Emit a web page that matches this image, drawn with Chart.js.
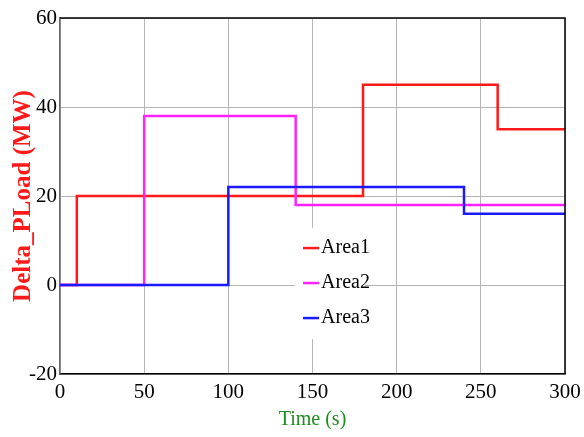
<!DOCTYPE html>
<html>
<head>
<meta charset="utf-8">
<script src="https://cdn.jsdelivr.net/npm/chart.js@4/dist/chart.umd.min.js"></script>
<style>
  html, body { margin: 0; padding: 0; background: #fff; }
  #wrap { width: 584px; height: 437px; }
</style>
</head>
<body>
<div id="wrap"><canvas id="chart"></canvas></div>
<script>
// step changes: time (s) where the load changes, and the new value (MW)
const area1Times = [0, 10, 180, 260, 300];
const area1Values = [0, 20, 45, 35, 35];
const area2Times = [0, 50, 140, 300];
const area2Values = [0, 38, 18, 18];
const area3Times = [0, 100, 240, 300];
const area3Values = [0, 22, 16, 16];

const seriesLabels = ["Area1", "Area2", "Area3"];
const seriesColors = ["#ff1a1a", "#ff22ff", "#1a1aff"];

const xTicks = [0, 50, 100, 150, 200, 250, 300];
const yTicks = [-20, 0, 20, 40, 60];

const serif = "'Liberation Serif', 'Times New Roman', serif";

const toPoints = (ts, vs) => ts.map((t, i) => ({ x: t, y: vs[i] }));

// frame on top/right + legend box inside the plot
const framePlugin = {
  id: "frame",
  afterDraw(chart) {
    const { ctx, chartArea: a } = chart;
    ctx.save();
    ctx.strokeStyle = "#000";
    ctx.lineWidth = 1.5;
    ctx.beginPath();
    ctx.moveTo(a.left, a.top);
    ctx.lineTo(a.right, a.top);
    ctx.lineTo(a.right, a.bottom);
    ctx.stroke();
    ctx.restore();
  },
};

const legendPlugin = {
  id: "innerLegend",
  afterDatasetsDraw(chart) {
    const { ctx } = chart;
    const xs = chart.scales.x;
    const ys = chart.scales.y;
    const left = xs.getPixelForValue(142);
    const top = ys.getPixelForValue(8.3);
    const rowH = 35;
    ctx.save();
    ctx.fillStyle = "#fff";
    ctx.fillRect(left - 4, top - 20, 70, rowH * 3 + 6);
    ctx.font = "20px " + serif;
    ctx.textBaseline = "middle";
    chart.data.datasets.forEach((ds, i) => {
      const y = top + i * rowH;
      ctx.strokeStyle = ds.borderColor;
      ctx.lineWidth = 2.5;
      ctx.beginPath();
      ctx.moveTo(left + 4, y);
      ctx.lineTo(left + 20, y);
      ctx.stroke();
      ctx.fillStyle = "#000";
      ctx.fillText(ds.label, left + 22, y);
    });
    ctx.restore();
  },
};

new Chart(document.getElementById("chart"), {
  type: "line",
  data: {
    datasets: [
      { label: seriesLabels[0], data: toPoints(area1Times, area1Values), borderColor: seriesColors[0], order: 3 },
      { label: seriesLabels[1], data: toPoints(area2Times, area2Values), borderColor: seriesColors[1], order: 2 },
      { label: seriesLabels[2], data: toPoints(area3Times, area3Values), borderColor: seriesColors[2], order: 1 },
    ].map((d) => ({ ...d, stepped: "before", borderWidth: 2.5, pointRadius: 0, fill: false })),
  },
  options: {
    responsive: true,
    maintainAspectRatio: false,
    animation: false,
    layout: { padding: { left: 0, right: 19, top: 18, bottom: 0 } },
    plugins: { legend: { display: false }, tooltip: { enabled: false } },
    scales: {
      x: {
        type: "linear",
        min: 0,
        max: 300,
        afterBuildTicks: (s) => { s.ticks = xTicks.map((v) => ({ value: v })); },
        afterFit: (s) => { s.height = 63; s.paddingLeft = 0; s.paddingRight = 0; },
        ticks: { color: "#000", font: { family: serif, size: 21 }, padding: 6, maxRotation: 0 },
        grid: { color: "#b4b4b4", lineWidth: 1, drawTicks: false },
        border: { color: "#000", width: 1.5 },
        title: {
          display: true,
          text: "Time (s)",
          color: "#1e8c1e",
          font: { family: serif, size: 20 },
          padding: { top: 0, bottom: 5 },
        },
      },
      y: {
        min: -20,
        max: 60,
        afterBuildTicks: (s) => { s.ticks = yTicks.map((v) => ({ value: v })); },
        afterFit: (s) => { s.width = 60; s.paddingTop = 0; s.paddingBottom = 0; },
        ticks: { color: "#000", font: { family: serif, size: 21 }, padding: 3 },
        grid: { color: "#b4b4b4", lineWidth: 1, drawTicks: false },
        border: { color: "#666", width: 1.5 },
        title: {
          display: true,
          text: "Delta_PLoad (MW)",
          color: "#ff1a1a",
          font: { family: serif, size: 25, weight: "bold" },
          padding: { top: 9, bottom: 0 },
        },
      },
    },
  },
  plugins: [framePlugin, legendPlugin],
});
</script>
</body>
</html>
